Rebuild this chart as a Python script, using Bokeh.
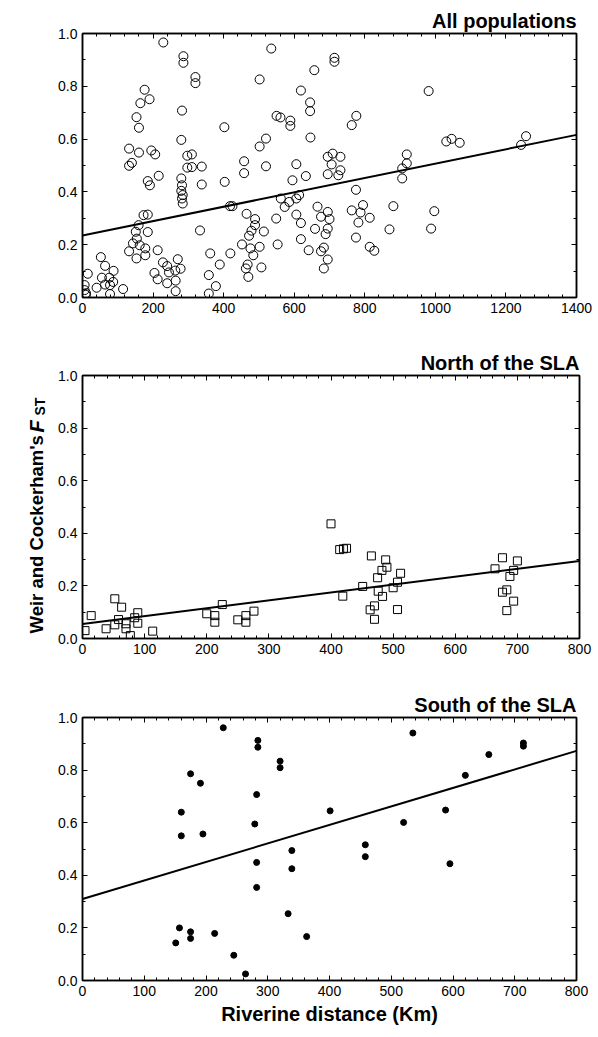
import math
from bokeh.plotting import figure
from bokeh.models import (Range1d, LinearAxis, SingleIntervalTicker,
                          PrintfTickFormatter)
from bokeh.layouts import column, row
from bokeh.core.properties import value
from bokeh.embed import file_html
from bokeh.resources import INLINE

FONT = "Liberation Sans"

# ---------------- data ----------------
all_km = [6, 6, 9, 10, 15, 40, 52, 55, 64, 64, 76, 78, 78, 87, 88, 115,
          132, 140, 132, 153, 160, 160, 164, 176, 190, 195, 206, 185, 191, 216, 229,
          173, 185, 159, 151, 185, 154, 143, 162, 178, 132, 153, 178, 213,
          204, 213, 228, 240, 245, 240, 263, 270, 278, 264, 264,
          280, 282, 286, 286, 320, 320, 280, 282, 280, 284, 282, 284,
          297, 310, 297, 310, 338, 338, 333,
          402, 403, 418, 425, 362, 419, 389, 358, 378, 358,
          458, 458, 465, 468, 463, 470, 452, 472,
          489, 489, 479, 514, 476, 502, 484, 507, 502, 502, 520, 520, 535,
          550, 561, 562, 553, 549,
          573, 586, 589, 589, 595, 606, 606, 614, 606, 619, 619, 619, 633,
          645, 645, 646, 641, 659, 657, 666,
          714, 714, 981, 776, 763, 695, 709, 731, 706, 731, 725, 695,
          919, 919, 906, 906, 775, 881, 795, 763, 788, 814, 782, 870, 988, 997,
          775, 814, 827, 695, 676, 700, 695, 689, 684, 676, 695, 684,
          1031, 1046, 1069, 1243, 1257]
all_fst = [0.047, 0.028, 0.010, 0.016, 0.090, 0.037, 0.153, 0.075, 0.120, 0.049, 0.075, 0.047, 0.013, 0.059, 0.101, 0.032,
           0.564, 0.510, 0.499, 0.683, 0.643, 0.549, 0.736, 0.787, 0.751, 0.557, 0.542, 0.441, 0.425, 0.461, 0.966,
           0.312, 0.314, 0.274, 0.249, 0.248, 0.223, 0.205, 0.198, 0.186, 0.175, 0.148, 0.160, 0.179,
           0.093, 0.069, 0.133, 0.119, 0.095, 0.054, 0.102, 0.145, 0.109, 0.064, 0.024,
           0.597, 0.708, 0.914, 0.889, 0.835, 0.812, 0.451, 0.425, 0.404, 0.388, 0.375, 0.356,
           0.537, 0.542, 0.492, 0.494, 0.496, 0.428, 0.254,
           0.645, 0.438, 0.346, 0.346, 0.167, 0.167, 0.125, 0.085, 0.043, 0.015,
           0.516, 0.471, 0.317, 0.125, 0.110, 0.078, 0.201, 0.234,
           0.297, 0.274, 0.253, 0.250, 0.186, 0.192, 0.160, 0.114, 0.826, 0.572, 0.602, 0.497, 0.943,
           0.688, 0.682, 0.375, 0.201, 0.299,
           0.343, 0.362, 0.670, 0.650, 0.444, 0.505, 0.375, 0.388, 0.314, 0.282, 0.221, 0.784, 0.460,
           0.739, 0.706, 0.606, 0.179, 0.260, 0.861, 0.344,
           0.908, 0.893, 0.782, 0.688, 0.653, 0.533, 0.545, 0.533, 0.504, 0.482, 0.463, 0.467,
           0.542, 0.508, 0.489, 0.451, 0.408, 0.346, 0.350, 0.330, 0.322, 0.302, 0.284, 0.258, 0.261, 0.327,
           0.227, 0.192, 0.177, 0.324, 0.306, 0.297, 0.261, 0.240, 0.189, 0.175, 0.144, 0.110,
           0.591, 0.601, 0.586, 0.578, 0.611]
all_line_km = [0, 1400]
all_line_fst = [0.235, 0.616]

north_km = [4, 14, 38, 52, 52, 58, 63, 70, 70, 77, 84, 89, 89, 113,
            200, 213, 213, 225, 250, 263, 263, 276,
            400, 414, 420, 425, 419, 451, 463, 465, 470, 470, 475, 476, 482, 483,
            488, 490, 500, 507, 507, 512,
            664, 676, 676, 683, 683, 688, 694, 694, 700]
north_fst = [0.030, 0.087, 0.037, 0.151, 0.052, 0.072, 0.119, 0.056, 0.037, 0.011, 0.079, 0.098, 0.058, 0.028,
             0.094, 0.087, 0.062, 0.129, 0.071, 0.087, 0.062, 0.104,
             0.436, 0.338, 0.341, 0.343, 0.161, 0.198, 0.109, 0.314, 0.124, 0.073, 0.231, 0.180, 0.259, 0.160,
             0.299, 0.271, 0.193, 0.214, 0.110, 0.248,
             0.265, 0.307, 0.176, 0.185, 0.106, 0.236, 0.259, 0.142, 0.295]
north_line_km = [0, 800]
north_line_fst = [0.055, 0.295]

south_km = [228, 284, 284, 320, 320, 175, 191, 282, 160, 279, 160, 195, 339, 282, 339, 282,
            333, 157, 175, 175, 151, 214, 245, 264,
            535, 714, 714, 658, 620, 401, 588, 520, 458, 458, 595, 363]
south_fst = [0.961, 0.913, 0.887, 0.834, 0.809, 0.786, 0.750, 0.707, 0.640, 0.595, 0.550, 0.557, 0.494, 0.449, 0.425, 0.354,
             0.254, 0.200, 0.185, 0.160, 0.143, 0.179, 0.096, 0.025,
             0.941, 0.903, 0.891, 0.859, 0.780, 0.645, 0.648, 0.601, 0.516, 0.471, 0.444, 0.167]
south_line_km = [0, 800]
south_line_fst = [0.31, 0.873]

titles = ["All populations", "North of the SLA", "South of the SLA"]
y_label_main = "Weir and Cockerham's"
y_label_f = "F"
y_label_sub = "ST"
x_label = "Riverine distance (Km)"
# ---------------------------------------

PAGE_W = 598


def style_axis(ax, show_labels=True):
    ax.axis_line_color = "black"
    ax.axis_line_width = 1.5
    ax.major_tick_line_color = "black"
    ax.minor_tick_line_color = "black"
    ax.major_tick_line_width = 1
    ax.minor_tick_line_width = 1
    ax.major_tick_in = 5
    ax.major_tick_out = 0
    ax.minor_tick_in = 3
    ax.minor_tick_out = 0
    if show_labels:
        ax.major_label_text_font = FONT
        ax.major_label_text_font_size = "14px"
        ax.major_label_text_color = "black"
        ax.major_label_standoff = 5
    else:
        ax.major_label_text_font_size = "0px"
        ax.major_label_text_color = None
        ax.major_label_standoff = 0


def make_fig(width, height, b_left, b_top, b_bottom, b_right, xmax, xint, title):
    p = figure(width=width, height=height,
               x_range=Range1d(0, xmax), y_range=Range1d(0, 1),
               output_backend="svg", toolbar_location=None,
               min_border_left=b_left, min_border_right=b_right,
               min_border_top=b_top, min_border_bottom=b_bottom)
    p.xgrid.visible = False
    p.ygrid.visible = False
    p.outline_line_color = "black"
    p.outline_line_width = 1.5
    p.background_fill_color = "white"
    p.border_fill_color = "white"

    p.title.text = title
    p.title.align = "right"
    p.title.text_font = FONT
    p.title.text_font_size = "20px"
    p.title.text_font_style = "bold"
    p.title.text_color = "black"
    p.title.standoff = 3
    p.title.offset = 0

    xb = p.below[0]
    yl = p.left[0]
    xb.ticker = SingleIntervalTicker(interval=xint, num_minor_ticks=5)
    yl.ticker = SingleIntervalTicker(interval=0.2, num_minor_ticks=2)
    yl.formatter = PrintfTickFormatter(format="%.1f")
    style_axis(xb)
    style_axis(yl)

    top = LinearAxis(ticker=SingleIntervalTicker(interval=xint, num_minor_ticks=5))
    right = LinearAxis(ticker=SingleIntervalTicker(interval=0.2, num_minor_ticks=2))
    style_axis(top, False)
    style_axis(right, False)
    p.add_layout(top, "above")
    p.add_layout(right, "right")
    return p


# panel 1: all populations
p1 = make_fig(PAGE_W, 327, 82, 33, 30, 22, 1400, 200, titles[0])
p1.line(all_line_km, all_line_fst, line_color="black", line_width=2)
p1.scatter(all_km, all_fst, marker="circle", size=9, fill_color=None,
           line_color="black", line_width=1)

# panel 2: north (with y-axis label figure at its left)
YL_W = 50
H2 = 341
T2, B2 = 48, 30
FH2 = H2 - T2 - B2          # frame height in px (frames are aligned in a row)
p2 = make_fig(PAGE_W - YL_W, H2, 82 - YL_W, T2, B2, 19, 800, 100, titles[1])
p2.line(north_line_km, north_line_fst, line_color="black", line_width=2)
p2.scatter(north_km, north_fst, marker="square", size=8, fill_color=None,
           line_color="black", line_width=1)

ylab = figure(width=YL_W, height=H2, x_range=Range1d(0, YL_W), y_range=Range1d(0, FH2),
              x_axis_type=None, y_axis_type=None, output_backend="svg",
              toolbar_location=None, title=None,
              min_border_left=0, min_border_right=0,
              min_border_top=T2, min_border_bottom=B2)
ylab.grid.visible = False
ylab.outline_line_color = None
ylab.background_fill_color = "white"
ylab.border_fill_color = "white"
fs_main = 18.5
base_x = 36
start_y = 5
f_y = 206
st_y = 223
ylab.text(x=[base_x], y=[start_y], text=[y_label_main], angle=math.pi / 2,
          text_align="left", text_baseline="alphabetic", text_color="black",
          text_font=value(FONT), text_font_size=value(f"{fs_main}px"),
          text_font_style="bold")
ylab.text(x=[base_x], y=[f_y], text=[y_label_f], angle=math.pi / 2,
          text_align="left", text_baseline="alphabetic", text_color="black",
          text_font=value(FONT), text_font_size=value("20px"),
          text_font_style="bold italic")
ylab.text(x=[base_x + 3], y=[st_y], text=[y_label_sub], angle=math.pi / 2,
          text_align="left", text_baseline="alphabetic", text_color="black",
          text_font=value(FONT), text_font_size=value("14px"),
          text_font_style="bold")

# panel 3: south
p3 = make_fig(PAGE_W, 365, 82, 49, 53, 19, 800, 100, titles[2])
p3.line(south_line_km, south_line_fst, line_color="black", line_width=2)
p3.scatter(south_km, south_fst, marker="circle", size=6, fill_color="black",
           line_color="black", line_width=1)
xa = p3.below[0]
xa.axis_label = x_label
xa.axis_label_text_font = FONT
xa.axis_label_text_font_size = "20px"
xa.axis_label_text_font_style = "bold"
xa.axis_label_text_color = "black"
xa.axis_label_standoff = 4

layout = column(p1, row(ylab, p2, spacing=0), p3, spacing=0)
open("out.html", "w").write(file_html(layout, INLINE))
